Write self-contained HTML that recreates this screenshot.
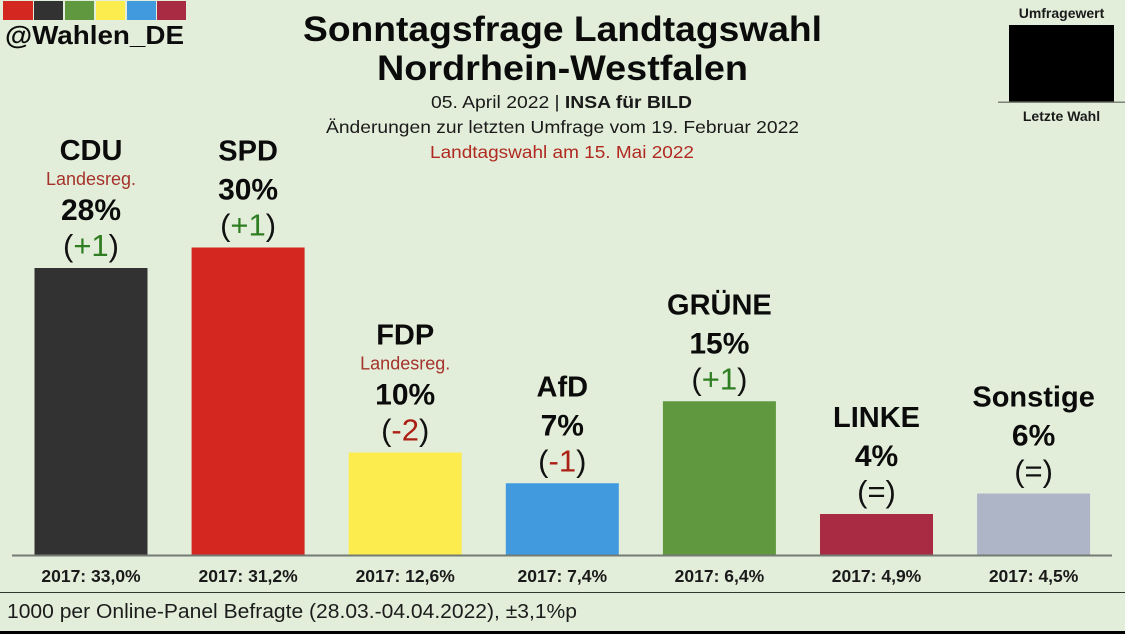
<!DOCTYPE html>
<html lang="de">
<head>
<meta charset="utf-8">
<title>Sonntagsfrage Landtagswahl Nordrhein-Westfalen</title>
<style>
html,body{margin:0;padding:0;background:#e3eeda}
svg{display:block;font-family:"Liberation Sans",sans-serif}
</style>
</head>
<body>
<svg id="chart" xmlns="http://www.w3.org/2000/svg" width="1125" height="634" viewBox="0 0 1125 634">
  <rect x="0" y="0" width="1125" height="634" fill="#e3eeda"/>
  <g>
    <rect x="3" y="1" width="30" height="19" fill="#d3271f"/>
    <rect x="34" y="1" width="29" height="19" fill="#333232"/>
    <rect x="65" y="1" width="29" height="19" fill="#5f983e"/>
    <rect x="96" y="1" width="29" height="19" fill="#fcec4e"/>
    <rect x="127" y="1" width="29" height="19" fill="#419ade"/>
    <rect x="157" y="1" width="29" height="19" fill="#a82a43"/>
  </g>
  <text x="5" y="44" font-size="26" font-weight="700" fill="#0c0c0c" textLength="179" lengthAdjust="spacingAndGlyphs">@Wahlen_DE</text>

  <text x="562.5" y="41" text-anchor="middle" font-size="35" font-weight="700" fill="#0b0b0b" textLength="519" lengthAdjust="spacingAndGlyphs">Sonntagsfrage Landtagswahl</text>
  <text x="562.5" y="80" text-anchor="middle" font-size="35" font-weight="700" fill="#0b0b0b" textLength="371" lengthAdjust="spacingAndGlyphs">Nordrhein-Westfalen</text>
  <text x="561.5" y="108" text-anchor="middle" font-size="17.5" fill="#1a1a1a" textLength="261" lengthAdjust="spacingAndGlyphs">05. April 2022 | <tspan font-weight="700">INSA für BILD</tspan></text>
  <text x="562.5" y="133" text-anchor="middle" font-size="17.5" fill="#1a1a1a" textLength="473" lengthAdjust="spacingAndGlyphs">Änderungen zur letzten Umfrage vom 19. Februar 2022</text>
  <text x="562" y="158" text-anchor="middle" font-size="17.5" fill="#b02a22" textLength="264" lengthAdjust="spacingAndGlyphs">Landtagswahl am 15. Mai 2022</text>

  <g>
    <text x="1061.5" y="18" text-anchor="middle" font-size="14" font-weight="700" fill="#1a1a1a">Umfragewert</text>
    <rect x="1009" y="25" width="105" height="77" fill="#000"/>
    <rect x="998" y="101.5" width="127" height="1.5" fill="#7d837b"/>
    <text x="1061.5" y="121" text-anchor="middle" font-size="14" font-weight="700" fill="#1a1a1a">Letzte Wahl</text>
  </g>

  <g id="bars"></g>
  <rect x="12" y="554.5" width="1100" height="2" fill="#747a74"/>
  <g id="labels"></g>

  <rect x="0" y="592" width="1125" height="1" fill="#2f3a2c"/>
  <text x="7" y="618" font-size="20" fill="#1c1c1c" textLength="570" lengthAdjust="spacingAndGlyphs">1000 per Online-Panel Befragte (28.03.-04.04.2022), ±3,1%p</text>
  <rect x="0" y="631" width="1125" height="3" fill="#000"/>
</svg>
<script>
const parties = ['CDU', 'SPD', 'FDP', 'AfD', 'GRÜNE', 'LINKE', 'Sonstige'];
const pollValues = [28, 30, 10, 7, 15, 4, 6];
const pollChanges = [1, 1, -2, -1, 1, 0, 0];
const lastElection = [33.0, 31.2, 12.6, 7.4, 6.4, 4.9, 4.5];
const inGovernment = [true, false, true, false, false, false, false];
const barColors = ['#333232', '#d3271f', '#fcec4e', '#419ade', '#5f983e', '#a82a43', '#adb5c6'];

const NS = 'http://www.w3.org/2000/svg';
const baseY = 555;
const pxPerPoint = 10.25;
const firstCenter = 91;
const step = 157.1;
const barWidth = 113;
const xCenter = i => firstCenter + i * step;
const yValue = v => baseY - v * pxPerPoint;

const barsGroup = document.getElementById('bars');
const labelsGroup = document.getElementById('labels');

function addText(parent, x, y, size, weight, fill, content) {
  const t = document.createElementNS(NS, 'text');
  t.setAttribute('x', x);
  t.setAttribute('y', y);
  t.setAttribute('text-anchor', 'middle');
  t.setAttribute('font-size', size);
  t.setAttribute('font-weight', weight);
  t.setAttribute('fill', fill);
  t.textContent = content;
  parent.appendChild(t);
  return t;
}

parties.forEach((party, i) => {
  const slug = party.toLowerCase();
  const cx = xCenter(i);
  const top = yValue(pollValues[i]);

  const bar = document.createElementNS(NS, 'rect');
  
  
  bar.setAttribute('x', cx - barWidth / 2);
  bar.setAttribute('y', top);
  bar.setAttribute('width', barWidth);
  bar.setAttribute('height', baseY - top);
  bar.setAttribute('fill', barColors[i]);
  barsGroup.appendChild(bar);

  const changeY = top - 12;
  const pctY = top - 48;
  const nameY = inGovernment[i] ? pctY - 60 : pctY - 39;

  const nameEl = addText(labelsGroup, cx, nameY, 29, 700, '#0b0b0b', party);
  
  

  if (inGovernment[i]) {
    const gov = addText(labelsGroup, cx, pctY - 35, 18, 400, '#a5332b', 'Landesreg.');
    
    
  }

  const pctEl = addText(labelsGroup, cx, pctY, 30, 700, '#0b0b0b', pollValues[i] + '%');
  
  

  const changeEl = addText(labelsGroup, cx, changeY, 31, 400, '#111', '');
  
  
  const c = pollChanges[i];
  const inner = document.createElementNS(NS, 'tspan');
  inner.textContent = c === 0 ? '=' : (c > 0 ? '+' + c : String(c));
  inner.setAttribute('fill', c > 0 ? '#2f7d22' : (c < 0 ? '#ab1f14' : '#111'));
  changeEl.appendChild(document.createTextNode('('));
  changeEl.appendChild(inner);
  changeEl.appendChild(document.createTextNode(')'));

  const prev = addText(labelsGroup, cx, 582, 17.5, 700, '#1a1a1a', '2017: ' + lastElection[i].toFixed(1).replace('.', ',') + '%');
  
  
});
</script>
</body>
</html>
